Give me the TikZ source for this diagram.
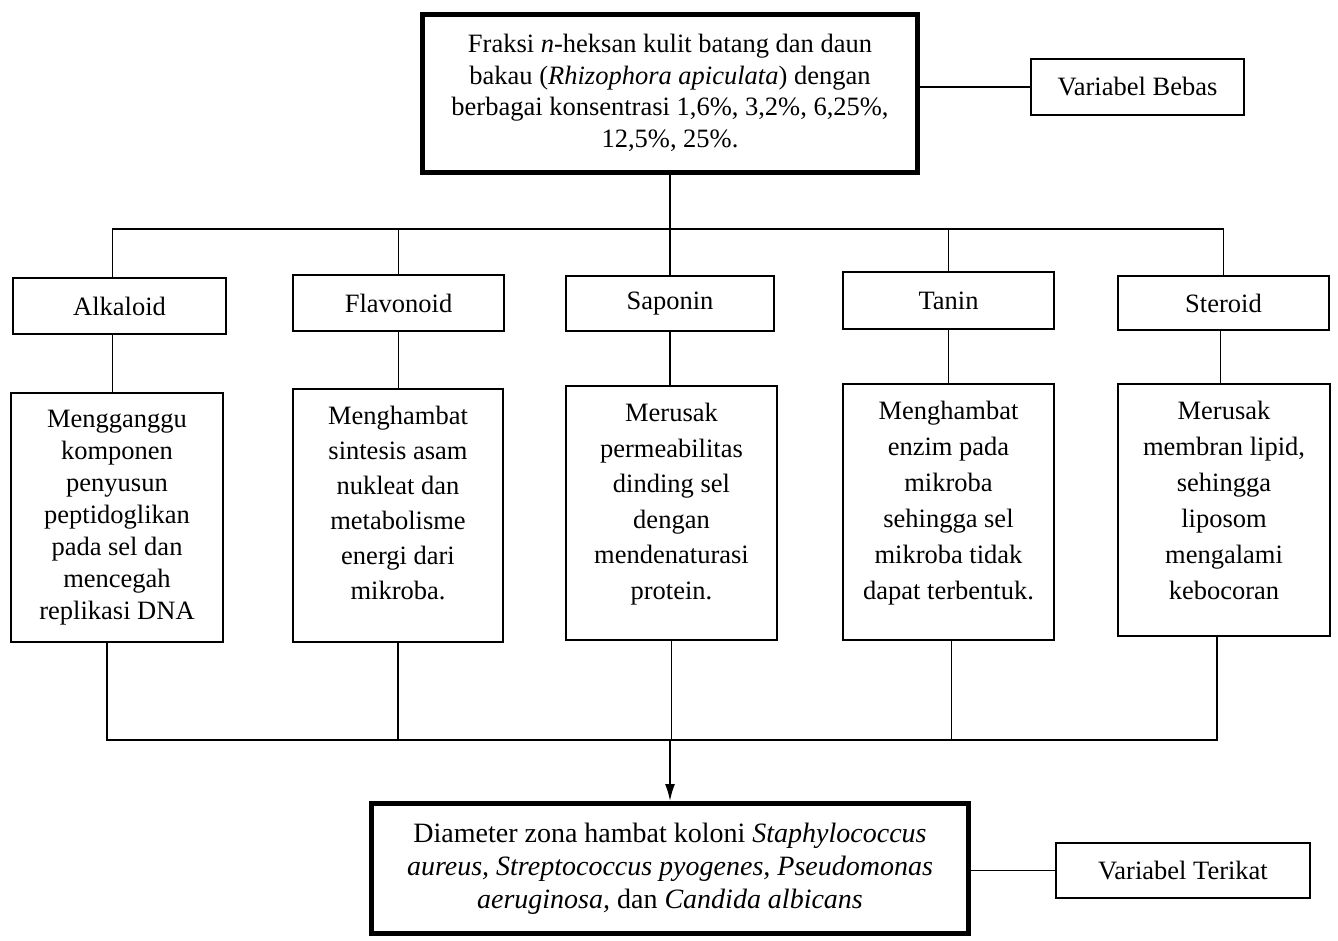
\documentclass[tikz,border=0pt]{standalone}
\usepackage{fontspec}
\setmainfont{Liberation Serif}
\usetikzlibrary{arrows.meta}
\begin{document}
\begin{tikzpicture}[x=1pt,y=-1pt,
  conn/.style={line width=1.7pt},
  catbox/.style={draw, line width=1.7pt, inner sep=0pt, minimum width=211pt, minimum height=56pt, font=\fontsize{26.5}{32}\selectfont},
  descbox/.style={draw, line width=1.7pt, inner sep=0pt},
  desctext/.style={anchor=north, align=center, inner sep=0pt, yshift=-18pt},
  bigbox/.style={draw, line width=5pt, inner sep=0pt, align=center},
]
\useasboundingbox (0,0) rectangle (1338,940);

% top box and independent variable
\node[bigbox, minimum width=495pt, minimum height=158pt, font=\fontsize{26.5}{31.5}\selectfont] (top) at (670,93)
  {Fraksi \textit{n}-heksan kulit batang dan daun\\bakau (\textit{Rhizophora apiculata}) dengan\\berbagai konsentrasi 1,6\%, 3,2\%, 6,25\%,\\12,5\%, 25\%.};
\node[catbox, minimum width=213pt] (vb) at (1137.5,87) {Variabel Bebas};

% category boxes
\node[catbox, minimum width=213pt] (alkc) at (119.5,306) {Alkaloid};
\node[catbox] (flac) at (398.5,303) {Flavonoid};
\node[catbox, minimum width=208pt, minimum height=55pt] (sapc) at (670,303.5) {Saponin};
\node[catbox, minimum height=57pt] (tanc) at (948.5,300.5) {Tanin};
\node[catbox, minimum height=54pt] (stec) at (1223.5,303) {Steroid};

% description boxes
\node[descbox, minimum width=212pt, minimum height=249pt] (alkd) at (117,517.5) {};
\node[desctext, font=\fontsize{26.5}{32}\selectfont] (alkt) at (alkd.north)
  {Mengganggu\\komponen\\penyusun\\peptidoglikan\\pada sel dan\\mencegah\\replikasi DNA};
\node[descbox, minimum width=210pt, minimum height=253pt] (flad) at (398,515.5) {};
\node[desctext, font=\fontsize{26.5}{35}\selectfont] (flat) at (flad.north)
  {Menghambat\\sintesis asam\\nukleat dan\\metabolisme\\energi dari\\mikroba.};
\node[descbox, minimum width=211pt, minimum height=254pt] (sapd) at (671.5,513) {};
\node[desctext, font=\fontsize{26.5}{35.5}\selectfont] (sapt) at (sapd.north)
  {Merusak\\permeabilitas\\dinding sel\\dengan\\mendenaturasi\\protein.};
\node[descbox, minimum width=211pt, minimum height=256pt] (tand) at (948.5,512) {};
\node[desctext, font=\fontsize{26.5}{36}\selectfont] (tant) at (tand.north)
  {Menghambat\\enzim pada\\mikroba\\sehingga sel\\mikroba tidak\\dapat terbentuk.};
\node[descbox, minimum width=212pt, minimum height=252pt] (sted) at (1224,510) {};
\node[desctext, font=\fontsize{26.5}{36}\selectfont] (stet) at (sted.north)
  {Merusak\\membran lipid,\\sehingga\\liposom\\mengalami\\kebocoran};

% bottom box and dependent variable
\node[bigbox, minimum width=597pt, minimum height=130pt, font=\fontsize{28}{33}\selectfont] (bot) at (670,868.5)
  {Diameter zona hambat koloni \textit{Staphylococcus}\\\textit{aureus, Streptococcus pyogenes, Pseudomonas}\\\textit{aeruginosa,} dan \textit{Candida albicans}};
\node[catbox, minimum width=254pt, minimum height=55pt] (vt) at (1183,870.5) {Variabel Terikat};

% connectors
\coordinate (hb) at (670,229);
\coordinate (lb) at (670,740);
\draw[conn] (top.south) -- (hb);
\draw[conn] ([xshift=-7pt]alkc.north) |- (hb);
\draw[conn] (stec.north) |- (hb);
\draw[conn] (flac.north) -- (flac.north |- hb);
\draw[conn] (sapc.north) -- (sapc.north |- hb);
\draw[conn] (tanc.north) -- (tanc.north |- hb);

\draw[conn] ([xshift=-7pt]alkc.south) -- ([xshift=-7pt]alkc.south |- alkd.north);
\draw[conn] (flac.south) -- (flac.south |- flad.north);
\draw[conn] (sapc.south) -- (sapc.south |- sapd.north);
\draw[conn] (tanc.south) -- (tanc.south |- tand.north);
\draw[conn] ([xshift=-3pt]stec.south) -- ([xshift=-3pt]stec.south |- sted.north);

\draw[conn] ([xshift=-10pt]alkd.south) |- (lb);
\draw[conn] ([xshift=-7pt]sted.south) |- (lb);
\draw[conn] (flad.south) -- (flad.south |- lb);
\draw[conn] (sapd.south) -- (sapd.south |- lb);
\draw[conn] ([xshift=3pt]tand.south) -- ([xshift=3pt]tand.south |- lb);
\draw[conn, -{Latex[length=17pt,width=10pt]}] (lb) -- (bot.north);

\draw[conn] (vb.west) -- (vb.west -| top.east);
\draw[conn] (vt.west) -- (vt.west -| bot.east);
\end{tikzpicture}
\end{document}
